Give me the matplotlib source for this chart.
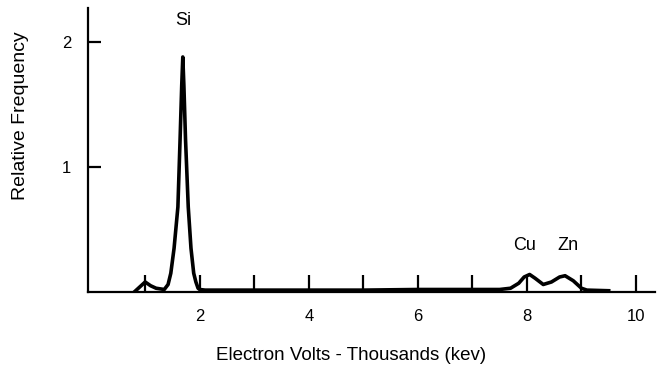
import matplotlib
matplotlib.use("Agg")
import matplotlib.pyplot as plt

plt.rcParams['font.family'] = ['Liberation Sans', 'DejaVu Sans']

# spectrum (keV, relative frequency)
energy = [0.8, 0.9, 1.0, 1.1, 1.2, 1.35, 1.42, 1.47, 1.53, 1.6, 1.64, 1.67, 1.69,
          1.71, 1.74, 1.79, 1.84, 1.89, 1.93, 1.97, 2.0, 2.1, 3.0, 4.0, 5.0, 6.0, 7.0, 7.5,
          7.7, 7.85, 7.95, 8.05, 8.15, 8.3, 8.45, 8.6, 8.7, 8.85, 9.0, 9.1, 9.5]
freq = [0.0, 0.04, 0.08, 0.05, 0.03, 0.02, 0.06, 0.15, 0.35, 0.68, 1.22, 1.65, 1.88,
        1.65, 1.22, 0.68, 0.35, 0.15, 0.08, 0.03, 0.02, 0.015, 0.015, 0.015, 0.015, 0.02, 0.02, 0.02,
        0.03, 0.07, 0.12, 0.14, 0.11, 0.06, 0.08, 0.12, 0.13, 0.09, 0.03, 0.015, 0.01]

xticks = [1, 2, 3, 4, 5, 6, 7, 8, 9, 10]
xtick_labels = ['', '2', '', '4', '', '6', '', '8', '', '10']
yticks = [1, 2]
ytick_labels = ['1', '2']

peak_labels = ['Si', 'Cu', 'Zn']
peak_x = [1.7, 7.95, 8.75]
peak_y = [2.1, 0.3, 0.3]

fig = plt.figure(figsize=(6.61, 3.69), dpi=100)
ax = fig.add_axes([0.133, 0.2087, 0.858, 0.769])
ax.plot(energy, freq, color='black', lw=2.6, solid_joinstyle='round')
ax.set_xlim(-0.05, 10.35)
ax.set_ylim(0, 2.27)
ax.spines['top'].set_visible(False)
ax.spines['right'].set_visible(False)
for s in ['left', 'bottom']:
    ax.spines[s].set_linewidth(1.6)
ax.set_xticks(xticks)
ax.set_xticklabels(xtick_labels)
ax.set_yticks(yticks)
ax.set_yticklabels(ytick_labels)
ax.tick_params(axis='x', direction='in', length=12, width=1.6, pad=12, labelsize=12)
ax.tick_params(axis='y', direction='in', length=9, width=1.6, pad=12, labelsize=12)
for lab, px, py in zip(peak_labels, peak_x, peak_y):
    ax.text(px, py, lab, ha='center', va='bottom', fontsize=13)
fig.text(351 / 661, 1 - 355 / 369, 'Electron Volts - Thousands (kev)',
         ha='center', va='center', fontsize=13.5)
fig.text(21 / 661, 1 - 116 / 369, 'Relative Frequency', rotation=90,
         ha='center', va='center', fontsize=14)
fig.savefig('out.png', dpi=100)
